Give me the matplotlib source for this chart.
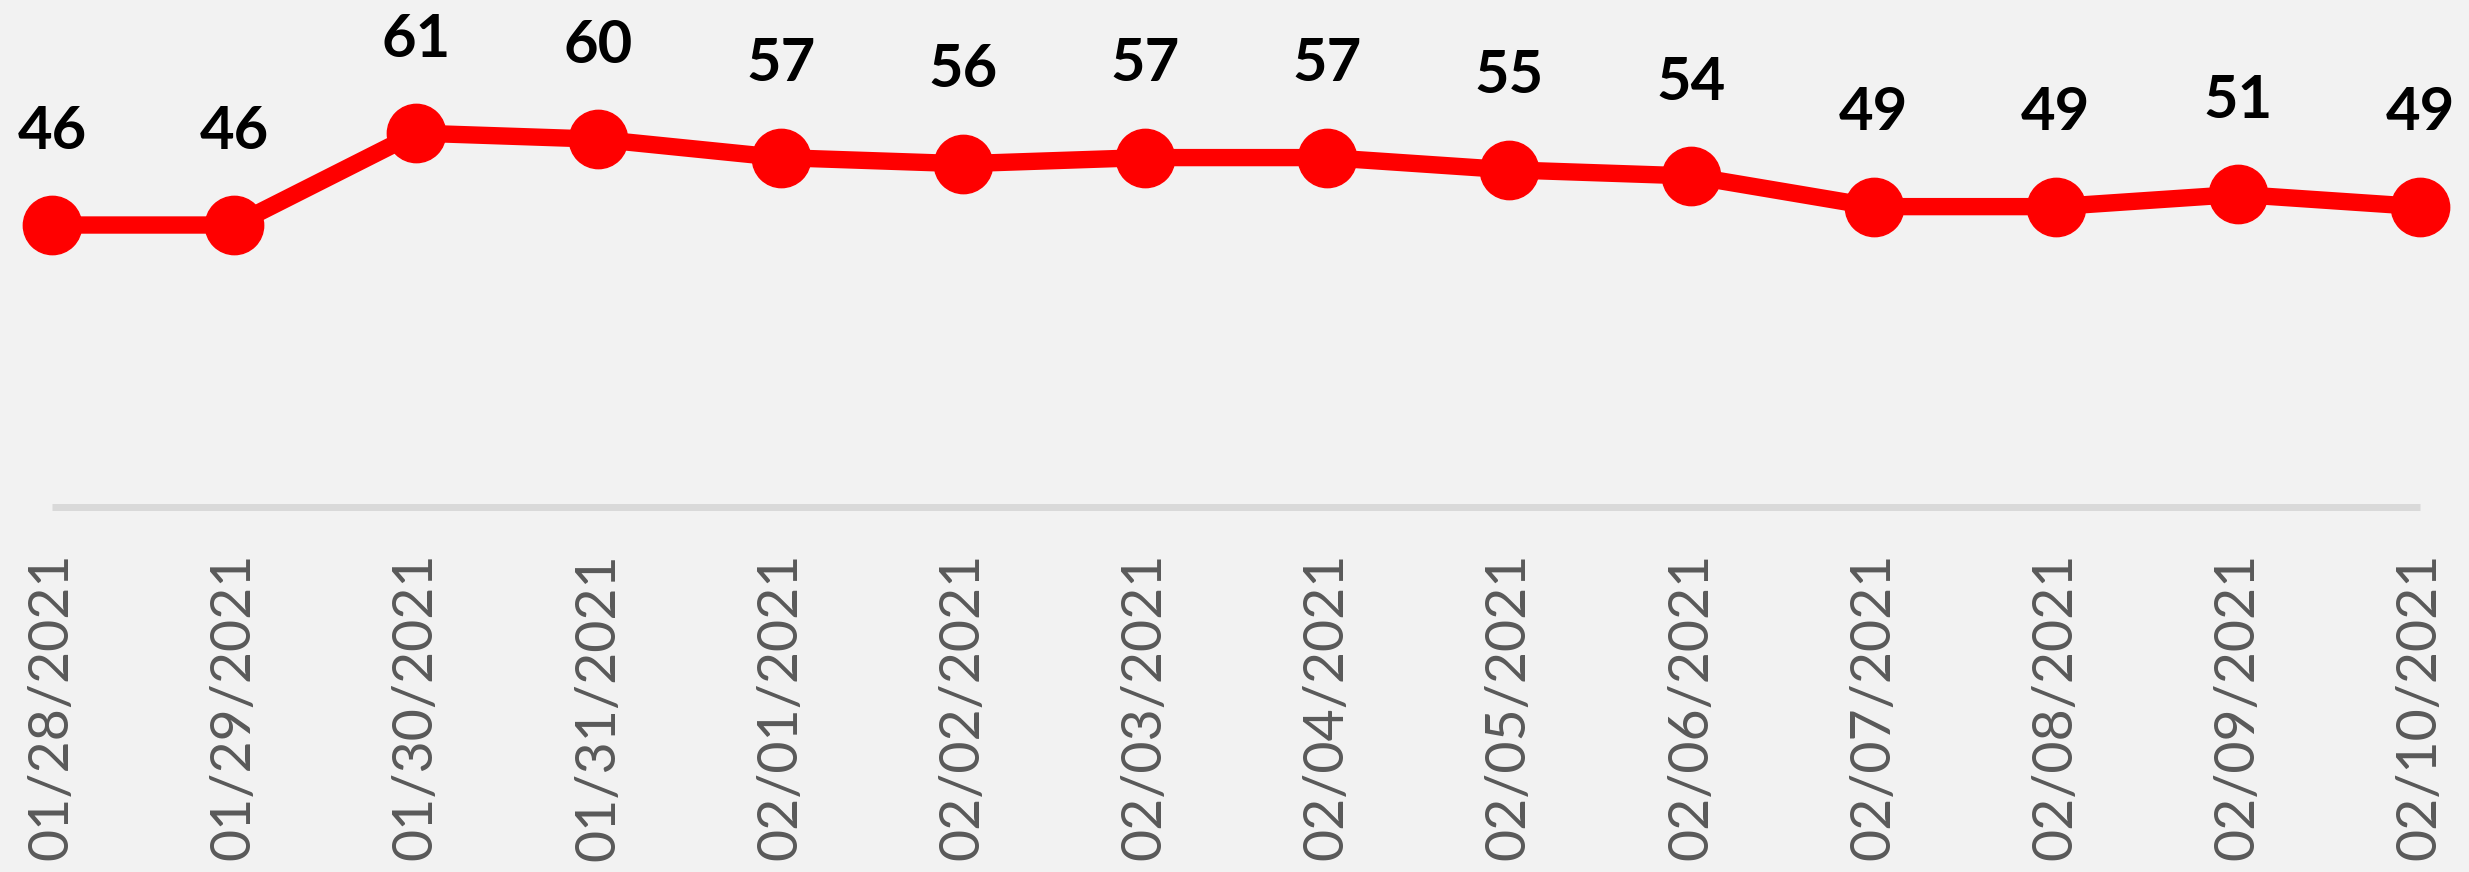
import matplotlib
matplotlib.use("Agg")
import matplotlib.pyplot as plt

dates = ["01/28/2021", "01/29/2021", "01/30/2021", "01/31/2021", "02/01/2021",
         "02/02/2021", "02/03/2021", "02/04/2021", "02/05/2021", "02/06/2021",
         "02/07/2021", "02/08/2021", "02/09/2021", "02/10/2021"]
values = [46, 46, 61, 60, 57, 56, 57, 57, 55, 54, 49, 49, 51, 49]

W, H, DPI = 2469, 872, 100
bg = "#f2f2f2"
fig = plt.figure(figsize=(W / DPI, H / DPI), dpi=DPI, facecolor=bg)
left = 52 / W
right = 2420 / W
bottom = 1 - 507 / H
ax = fig.add_axes([left, bottom, right - left, 1 - bottom])
ax.set_facecolor(bg)

x = list(range(len(values)))
ax.plot(x, values, color="#ff0000", linewidth=12.5, marker="o", markersize=42,
        markerfacecolor="#ff0000", markeredgecolor="#ff0000", clip_on=False,
        solid_joinstyle="round", zorder=3)

for xi, v in zip(x, values):
    ax.annotate(str(v), (xi, v), xytext=(0, 55), textcoords="offset points",
                ha="center", va="baseline", fontsize=43, fontweight="bold",
                family="Lato", color="black", annotation_clip=False)

ax.set_xlim(0, len(values) - 1)
ax.set_ylim(0, 507 / 6.13)
ax.set_yticks([])
ax.set_xticks(x)
ax.set_xticklabels(dates, rotation=90, fontsize=40, family="Lato", color="#595959",
                   va="top", ha="center")
ax.tick_params(axis="x", length=0, pad=33)
for s in ["top", "left", "right"]:
    ax.spines[s].set_visible(False)
ax.spines["bottom"].set_color("#d9d9d9")
ax.spines["bottom"].set_linewidth(5)
ax.spines["bottom"].set_capstyle("butt")

fig.savefig("out.png", dpi=DPI, facecolor=bg)
